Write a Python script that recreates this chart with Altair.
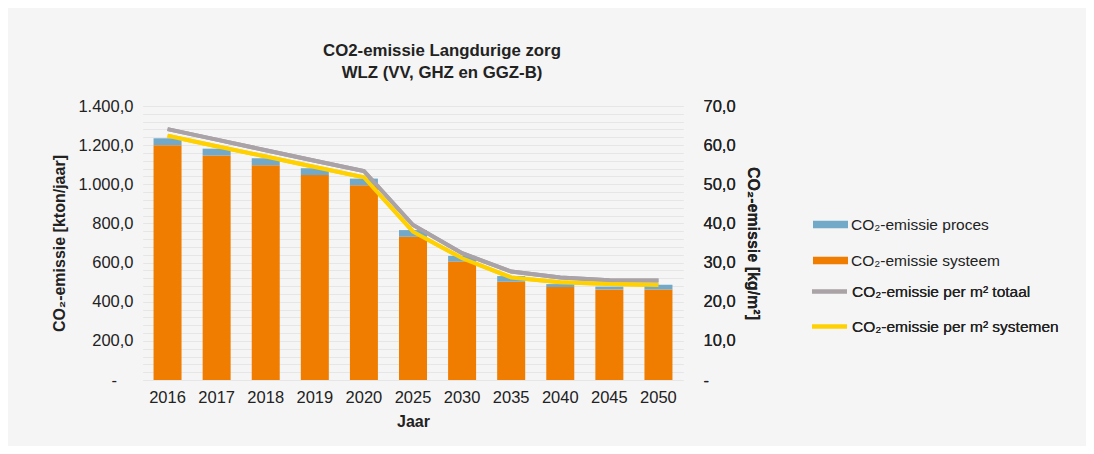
import altair as alt
import pandas as pd

years = ["2016", "2017", "2018", "2019", "2020", "2025", "2030", "2035", "2040", "2045", "2050"]
systeem = [1200, 1147, 1097, 1047, 995, 732, 605, 502, 475, 463, 463]
proces = [35, 35, 36, 35, 34, 34, 29, 29, 15, 14, 24]
per_m2_totaal = [64.1, 61.4, 58.7, 56.0, 53.4, 39.6, 32.4, 27.7, 26.2, 25.5, 25.4]
per_m2_systemen = [62.4, 59.7, 57.1, 54.4, 51.8, 37.9, 31.1, 26.2, 25.0, 24.5, 24.3]

bar_names = ["CO₂-emissie proces", "CO₂-emissie systeem"]
line_names = ["CO₂-emissie per m² totaal", "CO₂-emissie per m² systemen"]
bar_colors = ["#72A8C8", "#F07D00"]
line_colors = ["#A9A2A6", "#FFD100"]

bars_df = pd.DataFrame(
    [{"jaar": y, "serie": bar_names[1], "waarde": s, "ord": 0} for y, s in zip(years, systeem)]
    + [{"jaar": y, "serie": bar_names[0], "waarde": p, "ord": 1} for y, p in zip(years, proces)]
)
lines_df = pd.DataFrame(
    [{"jaar": y, "serie": line_names[0], "waarde": v} for y, v in zip(years, per_m2_totaal)]
    + [{"jaar": y, "serie": line_names[1], "waarde": v} for y, v in zip(years, per_m2_systemen)]
)

FONT = "Liberation Sans"
TXT = "#222222"
LBL = 16.5

x_enc = alt.X(
    "jaar:N",
    sort=years,
    scale=alt.Scale(paddingInner=0.42, paddingOuter=0.21),
    axis=alt.Axis(
        title="Jaar", labelAngle=0, domain=False, ticks=False, labelPadding=9,
        labelFontSize=LBL, titleFontSize=16, titleFontWeight="bold", titlePadding=8,
        labelColor=TXT, titleColor=TXT, labelFont=FONT, titleFont=FONT, grid=False,
    ),
)

left_label = (
    "datum.value == 0 ? '-\u2002\u2002\u200b' : "
    "replace(replace(replace(format(datum.value, ',.1f'), ',', '#'), '.', ','), '#', '.')"
)
right_label = (
    "datum.value % 10 != 0 ? '' : (datum.value == 0 ? '-' : "
    "replace(format(datum.value, '.1f'), '.', ','))"
)

bars = alt.Chart(bars_df).mark_bar(size=28).encode(
    x=x_enc,
    y=alt.Y(
        "sum(waarde):Q",
        stack="zero",
        scale=alt.Scale(domain=[0, 1400], nice=False),
        axis=alt.Axis(
            title="CO₂-emissie [kton/jaar]", values=list(range(0, 1401, 200)),
            labelExpr=left_label, grid=False, domain=False, ticks=False,
            labelPadding=10, labelFontSize=LBL, titleFontSize=16, titleFontWeight="bold",
            titlePadding=10, labelColor=TXT, titleColor=TXT, labelFont=FONT, titleFont=FONT,
        ),
    ),
    fill=alt.Fill(
        "serie:N",
        scale=alt.Scale(domain=bar_names, range=bar_colors),
        legend=alt.Legend(
            title=None, orient="none", legendX=670, legendY=101,
            symbolType="M-1,-0.22L1,-0.22L1,0.22L-1,0.22Z", symbolSize=1225,
            symbolStrokeWidth=0, labelFontSize=15.5, labelFont=FONT, labelColor=TXT,
            labelOffset=3, rowPadding=10, padding=0, labelLimit=400,
        ),
    ),
    order=alt.Order("ord:Q"),
)

lines = alt.Chart(lines_df).mark_line(strokeWidth=4).encode(
    x=x_enc,
    y=alt.Y(
        "waarde:Q",
        scale=alt.Scale(domain=[0, 70], nice=False),
        axis=alt.Axis(
            title="CO₂-emissie [kg/m²]", orient="right", values=list(range(0, 71, 2)),
            labelExpr=right_label, grid=True, gridColor="#E6E6E6", gridWidth=1.2,
            domain=False, ticks=False, labelPadding=20, labelFontSize=LBL,
            titleFontSize=16, titleFontWeight="bold", titlePadding=9,
            labelColor=TXT, titleColor=TXT, labelFont=FONT, titleFont=FONT,
            labelAlign="left",
        ),
    ),
    stroke=alt.Stroke(
        "serie:N",
        scale=alt.Scale(domain=line_names, range=line_colors),
        legend=alt.Legend(
            title=None, orient="none", legendX=667, legendY=166,
            symbolType="stroke", symbolSize=1225, symbolStrokeWidth=4,
            labelFontSize=15.5, labelFont=FONT, labelColor=TXT,
            labelOffset=3, rowPadding=7, padding=0, labelLimit=400,
        ),
    ),
    detail="serie:N",
)

chart = (
    alt.layer(lines, bars, lines)
    .resolve_scale(y="independent", fill="independent", stroke="independent")
    .properties(
        width=540,
        height=274,
        autosize=alt.AutoSizeParams(type="none"),
        padding={"left": 135, "top": 98, "right": 403, "bottom": 66},
        background="#F5F5F5",
        title=alt.TitleParams(
            text=["CO2-emissie Langdurige zorg", "WLZ (VV, GHZ en GGZ-B)"],
            fontSize=16.8, fontWeight="bold", font=FONT, color=TXT,
            anchor="middle", dx=29, offset=16, lineHeight=22,
        ),
    )
    .configure_view(stroke=None)
)

chart.save("out.html", embed_options={"renderer": "svg", "actions": False})
